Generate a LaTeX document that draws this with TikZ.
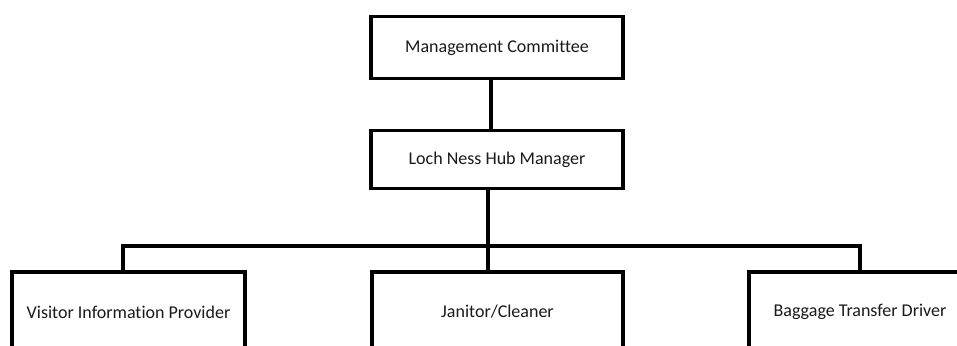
\documentclass[tikz,border=0pt]{standalone}
\usepackage{fontspec}
\setmainfont{Carlito}[Ligatures=NoCommon]
\usepackage{tikz}
\definecolor{chartline}{HTML}{000000}
\definecolor{charttext}{HTML}{1A1A1A}

\begin{document}
\begin{tikzpicture}[x=1pt,y=-1pt,font=\fontsize{18}{21}\selectfont]
  \tikzstyle{post}=[draw=chartline, line width=3.2pt, fill=white, text=charttext, align=center, inner sep=0pt]
  \tikzstyle{link}=[draw=chartline, line width=3.2pt]

  \useasboundingbox (0,0) rectangle (957,345);
  \clip (0,0) rectangle (957,345);

  \node[post, minimum width=252pt, minimum height=62pt] (mc) at (497,47.5) {Management Committee};
  \node[post, minimum width=252pt, minimum height=57.5pt] (hub) at (497,159.5) {Loch Ness Hub Manager};

  \node[post, minimum width=233pt, minimum height=80pt] (vip) at (128.5,312) {Visitor Information Provider};
  \node[post, minimum width=251pt, minimum height=80pt] (jan) at (497.5,312) {Janitor/Cleaner};
  \node[post, minimum width=222pt, minimum height=80pt] (bag) at (860,312) {Baggage Transfer Driver};

  \draw[link] ([xshift=-6pt]mc.south) -- ([xshift=-6pt]mc.south |- hub.north);
  \draw[link] ([xshift=-9pt]hub.south) -- ([xshift=-9pt]hub.south |- jan.north);

  \coordinate (busl) at (123,246);
  \coordinate (busr) at (860,246);
  \draw[link] (busl |- vip.north) -- (busl) -- (busr) -- (busr |- bag.north);
\end{tikzpicture}
\end{document}
